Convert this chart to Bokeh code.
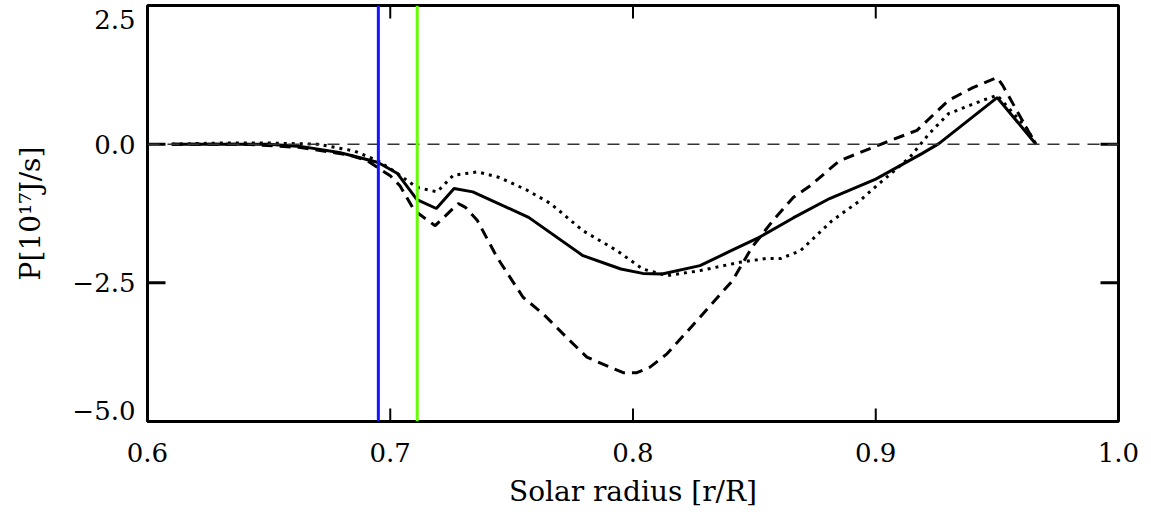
import math
from bokeh.plotting import figure
from bokeh.models import Range1d, LinearAxis, FixedTicker, CustomJSTickFormatter, Span
from bokeh.embed import file_html
from bokeh.resources import INLINE

# ---- data ----
r_solid = [0.610, 0.630, 0.650, 0.663, 0.679, 0.688, 0.695, 0.703, 0.711, 0.719,
           0.7263, 0.734, 0.757, 0.7794, 0.795, 0.804, 0.812, 0.8276, 0.840, 0.852,
           0.866, 0.881, 0.900, 0.919, 0.926, 0.950, 0.966]
p_solid = [0.0, 0.0, 0.0, -0.04, -0.15, -0.25, -0.33, -0.53, -1.0, -1.16,
           -0.80, -0.86, -1.32, -2.01, -2.25, -2.33, -2.34, -2.19, -1.93, -1.68,
           -1.33, -0.98, -0.63, -0.17, 0.01, 0.84, 0.0]

r_dash = [0.610, 0.640, 0.663, 0.6835, 0.6905, 0.700, 0.704, 0.710, 0.715, 0.7185,
          0.728, 0.731, 0.7358, 0.744, 0.7547, 0.763, 0.773, 0.781, 0.7905, 0.796,
          0.8016, 0.807, 0.814, 0.8276, 0.841, 0.849, 0.8576, 0.866, 0.873, 0.885,
          0.901, 0.917, 0.930, 0.940, 0.950, 0.9523, 0.962, 0.966]
p_dash = [0.0, 0.0, -0.06, -0.20, -0.30, -0.57, -0.75, -1.20, -1.36, -1.47,
          -1.07, -1.14, -1.37, -2.04, -2.76, -3.06, -3.50, -3.84, -4.02, -4.12,
          -4.12, -4.02, -3.78, -3.12, -2.46, -1.86, -1.38, -0.96, -0.75, -0.30,
          -0.02, 0.25, 0.79, 1.02, 1.20, 1.06, 0.30, 0.0]

r_dot = [0.610, 0.630, 0.650, 0.670, 0.685, 0.695, 0.701, 0.711, 0.7193, 0.726,
         0.736, 0.745, 0.7564, 0.766, 0.7794, 0.7934, 0.804, 0.814, 0.8276, 0.844,
         0.855, 0.861, 0.869, 0.882, 0.8934, 0.9004, 0.914, 0.922, 0.930, 0.944,
         0.950, 0.962, 0.966]
p_dot = [0.0, 0.02, 0.02, 0.0, -0.12, -0.30, -0.47, -0.78, -0.86, -0.56,
         -0.50, -0.60, -0.83, -1.07, -1.56, -1.92, -2.25, -2.37, -2.28, -2.13,
         -2.06, -2.06, -1.92, -1.38, -1.02, -0.75, -0.24, 0.19, 0.55, 0.79,
         0.88, 0.30, 0.0]

blue_r = 0.6951
green_r = 0.7111
zero_level = 0.0

x_ticks = [0.6, 0.7, 0.8, 0.9, 1.0]
y_ticks = [-5.0, -2.5, 0.0, 2.5]
x_label = "Solar radius [r/R]"
y_label = "P[10\u00b9\u2077J/s]"

FONT = "DejaVu Serif"
X0, X1 = 0.6, 1.0
Y0, Y1 = -5.0, 2.5
FRAME_H = 416  # px height of plot frame


def fmt_tick(v):
    return f"{v:.1f}".replace("-", "\u2212")


p = figure(width=1151, height=516, output_backend="svg", toolbar_location=None,
           x_range=Range1d(X0, X1), y_range=Range1d(Y0, Y1),
           x_axis_location=None, y_axis_location=None,
           min_border_left=147, min_border_right=33, min_border_top=5,
           min_border_bottom=95)
p.xgrid.visible = False
p.ygrid.visible = False
p.outline_line_color = "black"
p.outline_line_width = 3
p.background_fill_color = "white"
p.border_fill_color = "white"

# y tick labels: the two end labels are nudged inward (as in the reference)
px = (Y1 - Y0) / FRAME_H
label_pos = []
for t in y_ticks:
    if t == max(y_ticks):
        label_pos.append(t - 14 * px)
    elif t == min(y_ticks):
        label_pos.append(t + 11 * px)
    else:
        label_pos.append(t)
label_txt = [fmt_tick(t) for t in y_ticks]

yfmt = CustomJSTickFormatter(args=dict(pos=label_pos, txt=label_txt), code="""
let best = 0, bd = 1e9;
for (let i = 0; i < pos.length; i++) {
  const d = Math.abs(pos[i] - tick);
  if (d < bd) { bd = d; best = i; }
}
return txt[best];
""")
xfmt = CustomJSTickFormatter(code="return tick.toFixed(1).replace('-', '\u2212');")

bottom = LinearAxis(ticker=FixedTicker(ticks=x_ticks), formatter=xfmt,
                    axis_line_color=None, major_tick_in=0, major_tick_out=0,
                    minor_tick_line_color=None,
                    major_label_text_font=FONT, major_label_text_font_size="26px",
                    major_label_text_color="black",
                    major_label_standoff=21,
                    axis_label=x_label, axis_label_text_font=FONT,
                    axis_label_text_font_style="normal",
                    axis_label_text_color="black",
                    axis_label_text_font_size="28px", axis_label_standoff=10)
left = LinearAxis(ticker=FixedTicker(ticks=label_pos), formatter=yfmt,
                  axis_line_color=None, major_tick_in=0, major_tick_out=0,
                  minor_tick_line_color=None,
                  major_label_text_font=FONT, major_label_text_font_size="26px",
                  major_label_text_color="black",
                  major_label_standoff=12,
                  axis_label=y_label, axis_label_text_font=FONT,
                  axis_label_text_font_style="normal",
                  axis_label_text_color="black",
                  axis_label_text_font_size="28px", axis_label_standoff=22)
p.add_layout(bottom, "below")
p.add_layout(left, "left")

# inward tick marks on all four sides
ny, nx = len(y_ticks), len(x_ticks)
p.ray(x=[X0] * ny, y=y_ticks, length=18, length_units="screen", angle=0,
      line_color="black", line_width=3)
p.ray(x=[X1] * ny, y=y_ticks, length=18, length_units="screen", angle=math.pi,
      line_color="black", line_width=3)
p.ray(x=x_ticks, y=[Y0] * nx, length=13, length_units="screen", angle=math.pi / 2,
      line_color="black", line_width=2)
p.ray(x=x_ticks, y=[Y1] * nx, length=13, length_units="screen", angle=-math.pi / 2,
      line_color="black", line_width=2)

p.add_layout(Span(location=zero_level, dimension="width", line_color="#333333",
                  line_width=1.5, line_dash="12 8"))
p.add_layout(Span(location=blue_r, dimension="height", line_color="#1414ff", line_width=3))
p.add_layout(Span(location=green_r, dimension="height", line_color="#66ff00", line_width=3))

p.line(r_solid, p_solid, line_color="black", line_width=3)
p.line(r_dash, p_dash, line_color="black", line_width=3, line_dash="11 7")
p.line(r_dot, p_dot, line_color="black", line_width=3, line_dash="3 5")

open("out.html", "w").write(file_html(p, INLINE))
